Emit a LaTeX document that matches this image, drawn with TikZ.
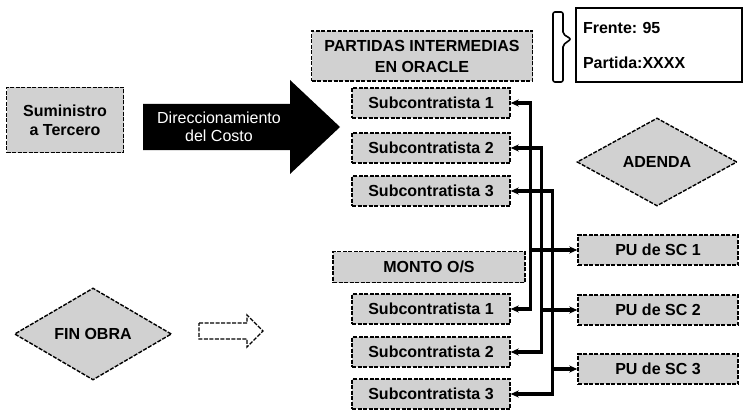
\documentclass[tikz,border=0pt]{standalone}
\usepackage{fontspec}
\setmainfont{Liberation Sans}
\usetikzlibrary{positioning,arrows.meta,shapes.geometric,calc}
\frenchspacing

\begin{document}
\begin{tikzpicture}[x=1pt, y=-1pt,
  font=\fontsize{16}{19}\selectfont\bfseries, >={Stealth[length=8pt,width=7pt]},
  sb/.style={draw, fill=black!18, line width=1.4pt, dash pattern=on 4pt off 1.5pt, inner sep=2pt, align=center},
  sc/.style={sb, minimum width=158pt, minimum height=30pt},
  pu/.style={sb, minimum width=160pt, minimum height=30pt},
  dm/.style={sb, diamond, aspect=1.7, inner sep=0pt},
  c/.style={line width=3.2pt}]
\useasboundingbox (0,0) rectangle (745,412);
% left column
\node[sb, minimum width=117pt, minimum height=65pt] (sum) at (65,120) {Suministro\\a Tercero};
\fill (143,104) -- (290,104) -- (290,80) -- (340,127) -- (290,174) -- (290,150) -- (143,150) -- cycle;
\node[text=white, font=\fontsize{16}{18}\selectfont, align=center] (dir) at (219,127) {Direccionamiento\\del Costo};
\node[dm, minimum width=157pt, minimum height=92pt] (fin) at (93,334) {FIN OBRA};
\draw[line width=1.4pt, dash pattern=on 4pt off 1.5pt] (199,323) -- (247,323) -- (247,315) -- (263,331) -- (247,347) -- (247,339) -- (199,339) -- cycle;
% top
\node[sb, minimum width=221pt, minimum height=50pt, font=\fontsize{16}{21}\selectfont\bfseries] (par) at (422,56) {PARTIDAS INTERMEDIAS\\EN ORACLE};
\draw[line width=1.6pt, rounded corners=2pt] (553,12) -- (563,12) -- (563,34) -- (571,39) -- (563,45) -- (563,82) -- (553,82) -- cycle;
\node[draw, line width=1.8pt, fill=white, minimum height=74pt, text width=152pt, inner xsep=7pt, align=left] (fre) at (659,45) {Frente: 95\\[16pt]Partida:XXXX};
% oracle column
\node[sc] (s1a) at (431,103) {Subcontratista 1};
\node[sc] (s2a) at (431,148) {Subcontratista 2};
\node[sc] (s3a) at (431,191) {Subcontratista 3};
\node[sb, minimum width=192pt, minimum height=31pt] (mon) at (429,267) {MONTO O/S};
\node[sc] (s1b) at (431,309) {Subcontratista 1};
\node[sc] (s2b) at (431,352) {Subcontratista 2};
\node[sc] (s3b) at (431,394) {Subcontratista 3};
% right column
\node[dm, minimum width=160pt, minimum height=88pt] (ade) at (657,162) {ADENDA};
\node[pu] (pu1) at (658,250) {PU de SC 1};
\node[pu] (pu2) at (658,310) {PU de SC 2};
\node[pu] (pu3) at (658,369) {PU de SC 3};
% connectors
\coordinate (l1) at ($(s1a.east)+(20,0)$);
\coordinate (l2) at ($(s2a.east)+(31,0)$);
\coordinate (l3) at ($(s3a.east)+(42,0)$);
\draw[c, <->] (s1a.east) -- (l1) |- (s1b.east);
\draw[c, <->] (s2a.east) -- (l2) |- (s2b.east);
\draw[c, <->] (s3a.east) -- (l3) |- (s3b.east);
\draw[c, ->] (l1 |- pu1.west) -- (pu1.west);
\draw[c, ->] (l2 |- pu2.west) -- (pu2.west);
\draw[c, ->] (l3 |- pu3.west) -- (pu3.west);
\end{tikzpicture}
\end{document}
